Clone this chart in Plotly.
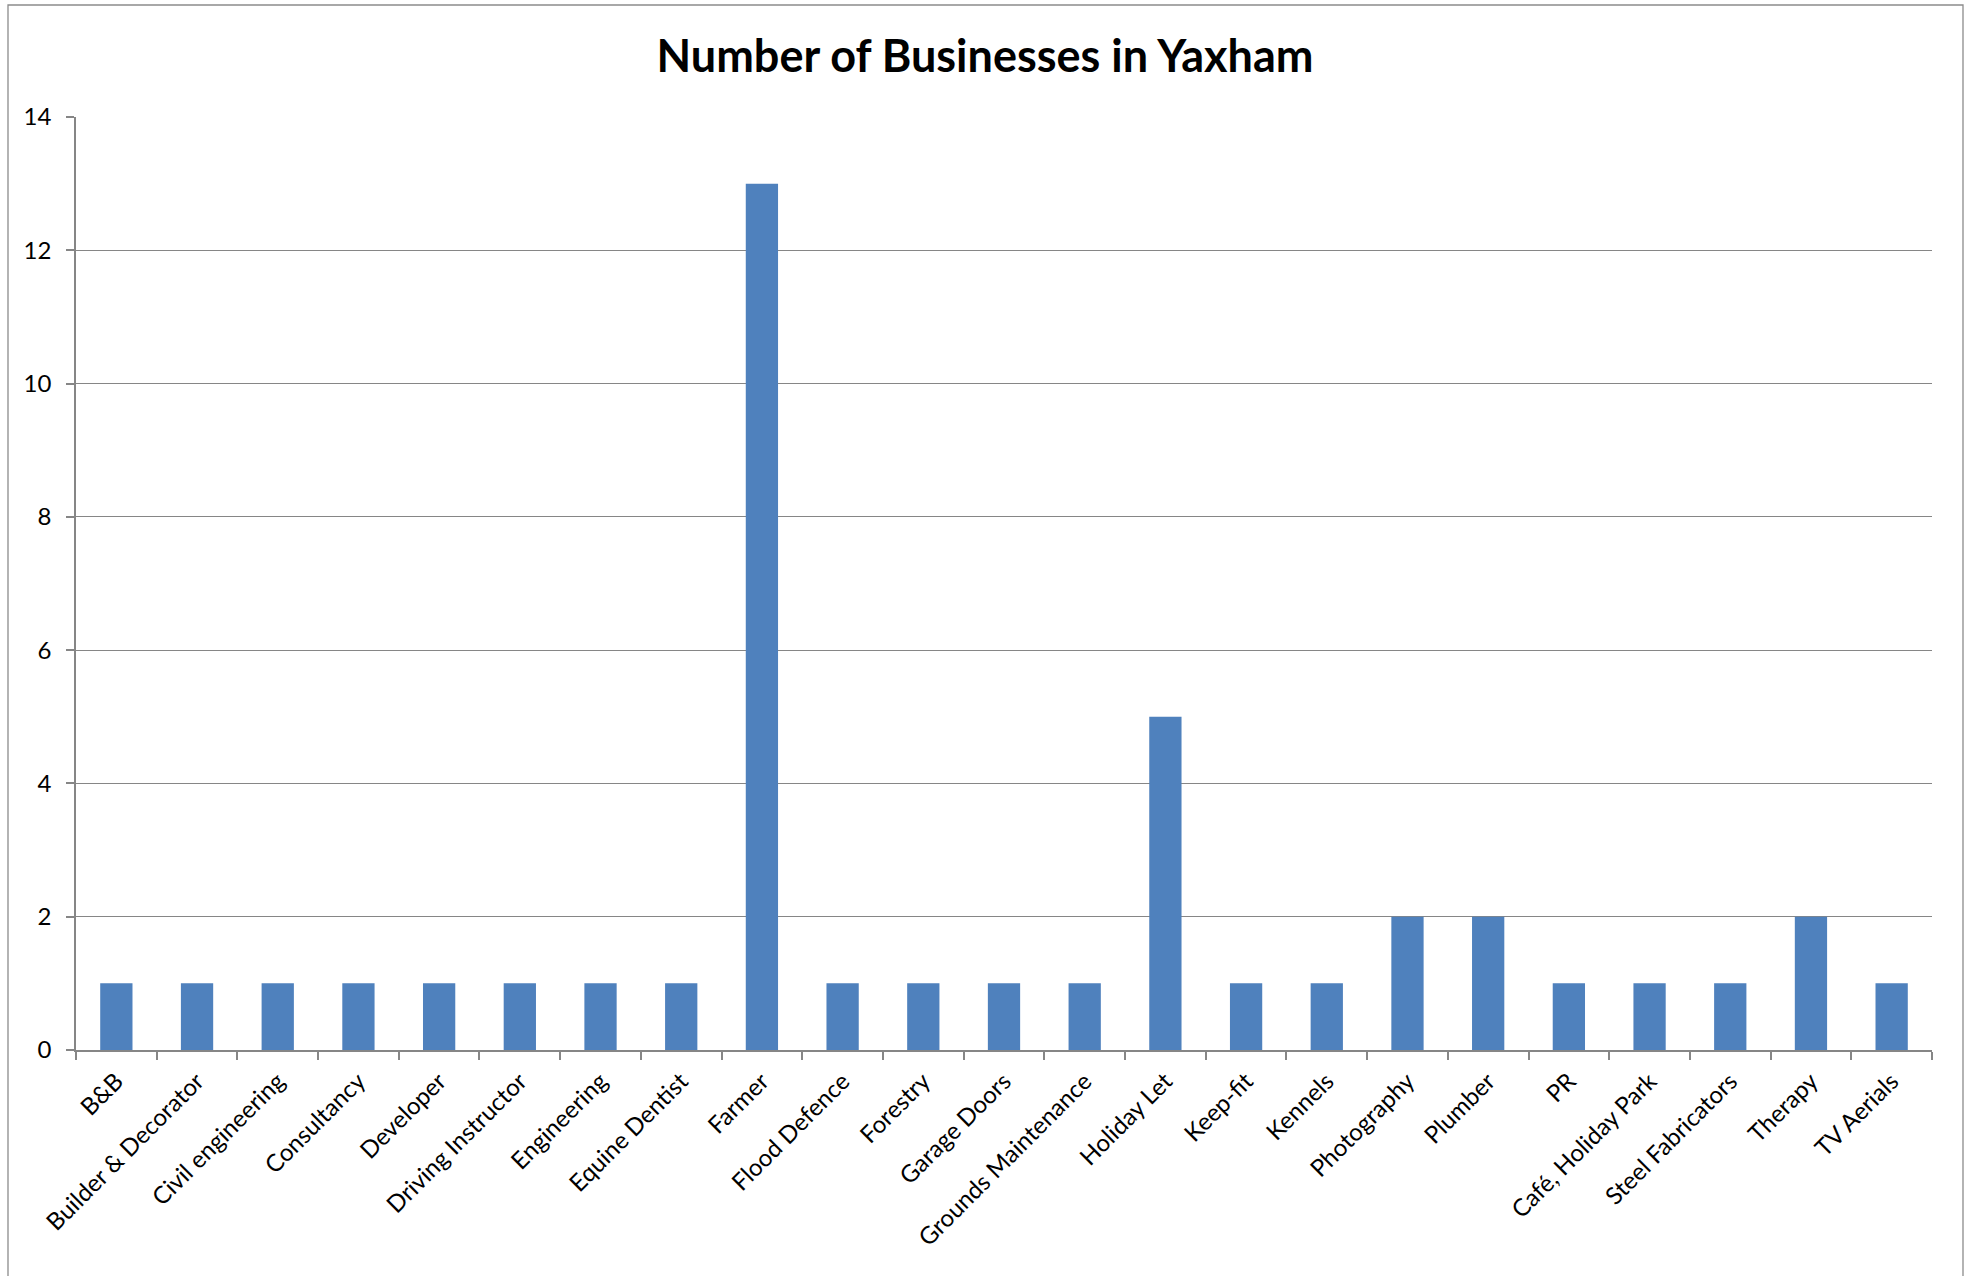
import plotly.graph_objects as go

categories = ["B&B", "Builder & Decorator", "Civil engineering", "Consultancy", "Developer",
              "Driving Instructor", "Engineering", "Equine Dentist", "Farmer", "Flood Defence",
              "Forestry", "Garage Doors", "Grounds Maintenance", "Holiday Let", "Keep-fit",
              "Kennels", "Photography", "Plumber", "PR", "Café, Holiday Park",
              "Steel Fabricators", "Therapy", "TV Aerials"]
counts = [1, 1, 1, 1, 1, 1, 1, 1, 13, 1, 1, 1, 1, 5, 1, 1, 2, 2, 1, 1, 1, 2, 1]
y_ticks = [0, 2, 4, 6, 8, 10, 12, 14]

W, H = 1966, 1276
ML, MR, MT, MB = 76, 34, 117, 226
pw, ph = W - ML - MR, H - MT - MB

FONT = "Lato"
GRID = "#868686"

fig = go.Figure(go.Bar(x=categories, y=counts, marker=dict(color="#4F81BD", line=dict(width=0))))

fig.update_layout(
    width=W, height=H,
    margin=dict(l=ML, r=MR, t=MT, b=MB),
    paper_bgcolor="white", plot_bgcolor="white",
    bargap=0.6,
    showlegend=False,
    font=dict(family=FONT, color="black"),
    title=dict(text="<b>Number of Businesses in Yaxham</b>", x=985 / W, xanchor="center",
               y=1 - 56 / H, yanchor="middle", font=dict(family=FONT, size=45, color="black")),
)
fig.update_xaxes(
    showline=True, linecolor=GRID, linewidth=1.5,
    showgrid=False, ticks="outside", ticklen=8, tickcolor=GRID, tickwidth=1.5,
    tickson="boundaries", tickangle=-45, ticklabelstandoff=6,
    tickfont=dict(family=FONT, size=24, color="black"),
)
fig.update_yaxes(
    range=[0, 14], tickvals=y_ticks, showline=True, linecolor=GRID, linewidth=1.5,
    showgrid=True, gridcolor=GRID, gridwidth=1.3, zeroline=False,
    ticks="outside", ticklen=8, tickcolor=GRID, tickwidth=1.5, ticklabelstandoff=10,
    tickfont=dict(family=FONT, size=24, color="black"),
)
# outer chart frame
fig.add_shape(type="rect", xref="paper", yref="paper",
              x0=(8 - ML) / pw, x1=(1963 - ML) / pw,
              y0=(H - MB - (H + 20)) / ph, y1=(H - MB - 5) / ph,
              line=dict(color="#8c8c8c", width=1.3), fillcolor="rgba(0,0,0,0)", layer="below")

fig.write_html("out.html")
